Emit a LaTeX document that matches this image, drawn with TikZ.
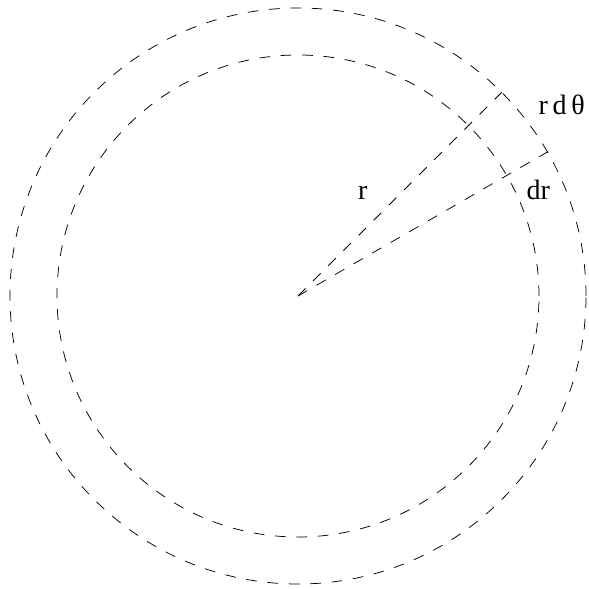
\documentclass[tikz,border=0pt]{standalone}
\usepackage{fontspec}
\setmainfont{Liberation Serif}
\usetikzlibrary{calc}
\begin{document}
\begin{tikzpicture}[x=1pt,y=1pt,
  dashline/.style={draw=black,line width=0.75pt,dash pattern=on 10.7pt off 10.7pt},
  lbl/.style={inner sep=0pt,anchor=base west,font=\fontsize{28}{32}\selectfont}]
\useasboundingbox (0,0) rectangle (589,589);
\coordinate (c) at (298,293);
\draw[dashline] (c) circle[radius=288];
\draw[dashline] (c) circle[radius=241];
\coordinate (e1) at ($(c)+(45:288)$);
\coordinate (e2) at ($(c)+(30:289)$);
\draw[dashline] (c) -- (e1);
\draw[dashline] (c) -- (e2);
\node[lbl] (lr) at (358,389.7) {r};
\node[lbl] (ldr) at (526.5,389.7) {dr};
\node[lbl] (lrdt) at (538.5,474) {r\,d\,θ};
\end{tikzpicture}
\end{document}
